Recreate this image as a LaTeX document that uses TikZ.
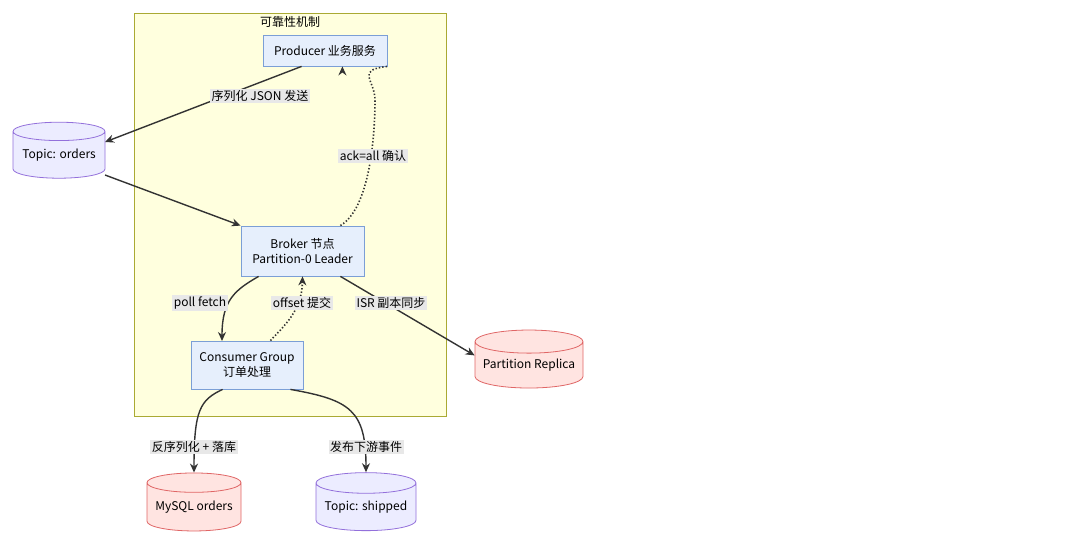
\documentclass[tikz,border=0pt]{standalone}
\usepackage{fontspec}
\setmainfont{Noto Sans CJK SC}
\usetikzlibrary{shapes.geometric,arrows.meta}
\definecolor{clfill}{HTML}{FFFFDE}\definecolor{cldraw}{HTML}{AAAA33}
\definecolor{bfill}{HTML}{E6EFFC}\definecolor{bdraw}{HTML}{7B9FD6}
\definecolor{pfill}{HTML}{ECECFF}\definecolor{pdraw}{HTML}{9370DB}
\definecolor{rfill}{HTML}{FFE4E1}\definecolor{rdraw}{HTML}{E06666}
\definecolor{lbl}{HTML}{E8E8E8}\definecolor{ln}{HTML}{333333}
\tikzset{
 box/.style={draw=bdraw,fill=bfill,line width=0.8pt,font=\fontsize{12}{15}\selectfont,align=center,inner sep=0pt},
 cyl/.style={cylinder,shape border rotate=90,aspect=0.25,draw,line width=0.8pt,font=\fontsize{12}{15}\selectfont,inner sep=0pt},
 pc/.style={cyl,draw=pdraw,fill=pfill},
 rc/.style={cyl,draw=rdraw,fill=rfill},
 e/.style={draw=ln,line width=1.4pt,-{Stealth[length=9pt,width=8pt]}},
 d/.style={e,dotted,line width=1.6pt},
 lab/.style={fill=lbl,font=\fontsize{12}{14}\selectfont,inner sep=1.5pt}
}
\begin{document}
\begin{tikzpicture}[x=1pt,y=-1pt]
\useasboundingbox (0,0) rectangle (1080,554);
\fill[white] (0,0) rectangle (1080,554);
\draw[cldraw,fill=clfill,line width=0.8pt] (134,13) rectangle (446,416);
\node[font=\fontsize{12}{14}\selectfont] (t) at (290,22) {可靠性机制};
\node[box,minimum width=124pt,minimum height=31pt] (prod) at (325,50.5) {Producer 业务服务};
\node[box,minimum width=123pt,minimum height=50pt] (brk) at (302.5,251) {Broker 节点\\Partition-0 Leader};
\node[box,minimum width=112pt,minimum height=48pt] (cons) at (247,365) {Consumer Group\\订单处理};
\node[pc,minimum width=92pt,minimum height=56pt] (to) at (59,155) {Topic: orders};
\node[rc,minimum width=108pt,minimum height=58pt] (pr) at (529,365) {Partition Replica};
\node[rc,minimum width=94pt,minimum height=58pt] (my) at (194,507) {MySQL orders};
\node[pc,minimum width=100pt,minimum height=58pt] (ts) at (366,507) {Topic: shipped};
\draw[e] (prod.south west)++(39,0) -- (105,142);
\draw[e] (105,175) -- (brk.north west);
\draw[d] (brk.north east)++(-24,0) .. controls (375,205) and (375,110) .. (375,100) .. controls (375,80) and (355,70) .. (prod.south east)++(-45,0);
\draw[e] (brk.south west)++(18,0) .. controls (235,290) and (222,300) .. (222,341);
\draw[d] (cons.north east)++(-33,0) .. controls (285,325) and (302,310) .. (brk.south);
\draw[e] (brk.south east)++(-24,0) -- (pr.170);
\draw[e] (cons.south west)++(32,0) .. controls (200,400) and (194,410) .. (my.north);
\draw[e] (cons.south east)++(-13,0) .. controls (350,400) and (366,410) .. (ts.north);
\node[lab] at (260,96) {序列化 JSON 发送};
\node[lab] at (373,156) {ack=all 确认};
\node[lab] at (200,303) {poll fetch};
\node[lab] at (302,303) {offset 提交};
\node[lab] at (391,303) {ISR 副本同步};
\node[lab] at (194,447) {反序列化 + 落库};
\node[lab] at (366,447) {发布下游事件};
\end{tikzpicture}
\end{document}
